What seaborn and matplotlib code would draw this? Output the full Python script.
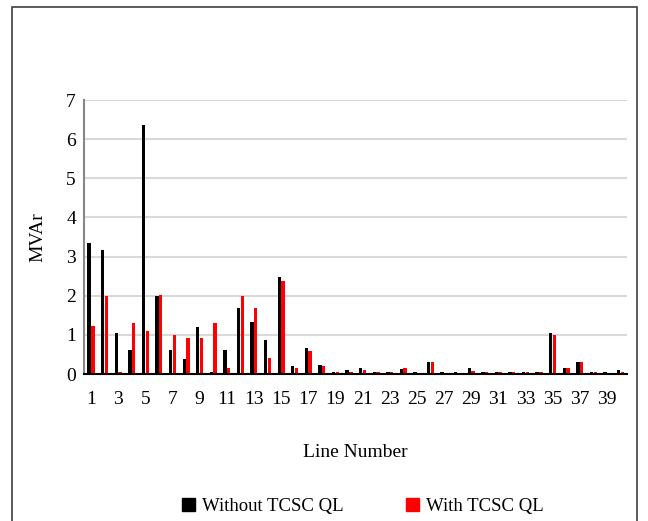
import numpy as np
import pandas as pd
import matplotlib
matplotlib.use("Agg")
import matplotlib.pyplot as plt
import seaborn as sns
from matplotlib.patches import Rectangle, Patch

# Reactive power loss per line (MVAr)
line_numbers = list(range(1, 41))
without_tcsc = [3.35, 3.17, 1.05, 0.62, 6.35, 2.00, 0.62, 0.38, 1.19, 0.05,
                0.62, 1.70, 1.33, 0.86, 2.47, 0.20, 0.67, 0.24, 0.06, 0.10,
                0.15, 0.05, 0.05, 0.12, 0.05, 0.30, 0.05, 0.05, 0.15, 0.05,
                0.05, 0.05, 0.05, 0.05, 1.05, 0.15, 0.30, 0.05, 0.05, 0.10]
with_tcsc = [1.23, 2.00, 0.05, 1.30, 1.10, 2.03, 1.00, 0.91, 0.91, 1.30,
             0.15, 2.00, 1.70, 0.40, 2.38, 0.15, 0.58, 0.20, 0.05, 0.06,
             0.10, 0.05, 0.05, 0.16, 0.04, 0.30, 0.04, 0.04, 0.08, 0.06,
             0.05, 0.05, 0.05, 0.05, 1.00, 0.15, 0.30, 0.05, 0.04, 0.05]
series_names = ["Without TCSC QL", "With TCSC QL"]
series_colors = ["black", "red"]
y_ticks = [0, 1, 2, 3, 4, 5, 6, 7]


def main():
    df = pd.DataFrame({
        "Line": line_numbers * 2,
        "MVAr": without_tcsc + with_tcsc,
        "Series": [series_names[0]] * len(line_numbers) + [series_names[1]] * len(line_numbers),
    })

    sns.set_style("white")
    plt.rcParams["font.family"] = ["Liberation Serif", "DejaVu Serif"]
    plt.rcParams["text.color"] = "black"
    plt.rcParams["axes.labelcolor"] = "black"
    plt.rcParams["xtick.color"] = "black"
    plt.rcParams["ytick.color"] = "black"

    fig = plt.figure(figsize=(6.48, 5.21), dpi=100)
    ax = fig.add_axes([0.130, 0.282, 0.838, 0.526])

    sns.barplot(data=df, x="Line", y="MVAr", hue="Series",
                palette=dict(zip(series_names, series_colors)),
                width=0.55, gap=0.1, saturation=1, linewidth=0,
                legend=False, ax=ax)

    ax.set_ylim(0, 7)
    ax.set_yticks(y_ticks)
    ax.set_yticklabels([str(t) for t in y_ticks], fontsize=14)
    ax.set_xticks(range(0, len(line_numbers), 2))
    ax.set_xticklabels([str(n) for n in line_numbers[::2]], fontsize=14)
    ax.set_xlim(-0.5, len(line_numbers) - 0.5)
    ax.tick_params(axis="y", length=0, pad=6)
    ax.tick_params(axis="x", length=0, pad=12)

    ax.set_axisbelow(True)
    ax.yaxis.grid(True, color="#d9d9d9", linewidth=1.5)
    ax.xaxis.grid(False)
    for side in ["top", "right"]:
        ax.spines[side].set_visible(False)
    ax.spines["left"].set_color("#888888")
    ax.spines["left"].set_linewidth(1.5)
    ax.spines["bottom"].set_color("black")
    ax.spines["bottom"].set_linewidth(1.5)

    ax.set_ylabel("MVAr", fontsize=14, labelpad=14)
    ax.set_xlabel("Line Number", fontsize=14, labelpad=26)

    handles = [Patch(facecolor=c, edgecolor=c) for c in series_colors]
    fig.legend(handles, series_names, loc="center", bbox_to_anchor=(0.560, 0.028),
               ncol=2, frameon=False, fontsize=13.5, handlelength=0.7,
               handleheight=0.7, handletextpad=0.4, columnspacing=3.3)

    # outer chart border
    fig.patches.append(Rectangle((12 / 648, -0.02), 625 / 648, 1.0 - 7 / 521 + 0.02,
                                 transform=fig.transFigure, fill=False,
                                 edgecolor="#404040", linewidth=1.2))

    fig.savefig("out.png", dpi=100)
    plt.close(fig)


if __name__ == "__main__":
    main()
